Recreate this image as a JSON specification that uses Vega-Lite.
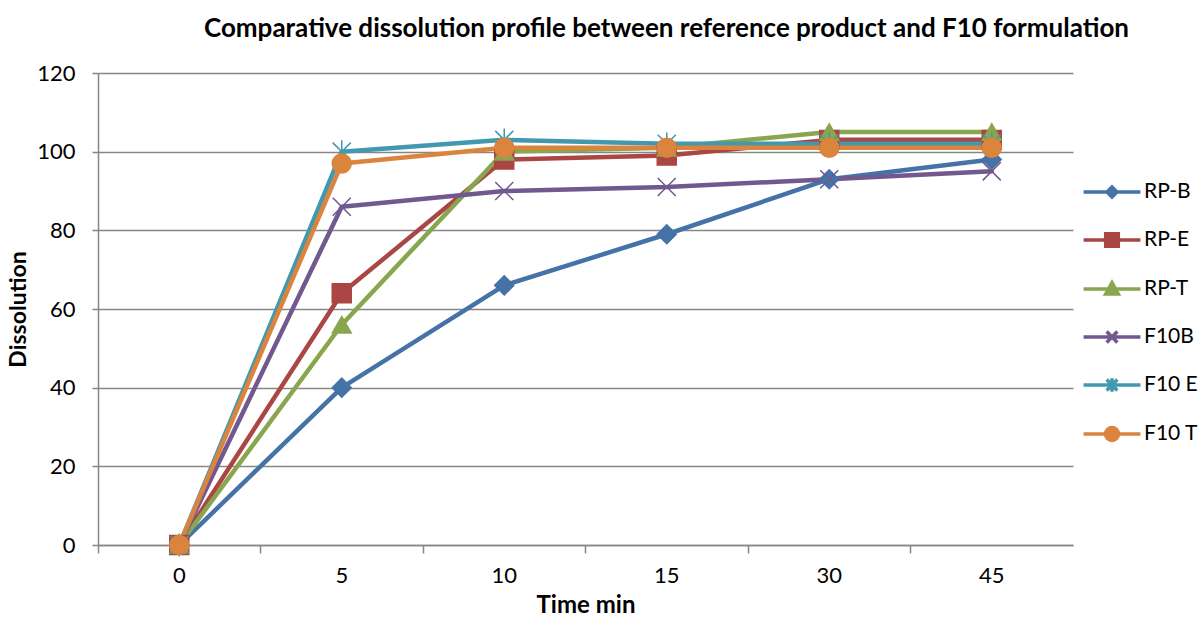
{
  "$schema": "https://vega.github.io/schema/vega-lite/v6.json",
  "width": 975,
  "height": 472,
  "autosize": "none",
  "padding": {"left": 98, "top": 73, "right": 130, "bottom": 72},
  "background": "white",
  "title": {"text": "Comparative dissolution profile between reference product and F10 formulation", "font": "Lato", "fontSize": 26, "fontWeight": "bold", "color": "black", "anchor": "middle", "dx": 81, "offset": 20},
  "config": {"view": {"stroke": null}, "font": "Lato"},
  "data": {"values": [
    {"series": "RP-B", "time": 0, "dissolution": 0},
    {"series": "RP-B", "time": 5, "dissolution": 40},
    {"series": "RP-B", "time": 10, "dissolution": 66},
    {"series": "RP-B", "time": 15, "dissolution": 79},
    {"series": "RP-B", "time": 30, "dissolution": 93},
    {"series": "RP-B", "time": 45, "dissolution": 98},
    {"series": "RP-E", "time": 0, "dissolution": 0},
    {"series": "RP-E", "time": 5, "dissolution": 64},
    {"series": "RP-E", "time": 10, "dissolution": 98},
    {"series": "RP-E", "time": 15, "dissolution": 99},
    {"series": "RP-E", "time": 30, "dissolution": 103},
    {"series": "RP-E", "time": 45, "dissolution": 103},
    {"series": "RP-T", "time": 0, "dissolution": 0},
    {"series": "RP-T", "time": 5, "dissolution": 56},
    {"series": "RP-T", "time": 10, "dissolution": 100},
    {"series": "RP-T", "time": 15, "dissolution": 101},
    {"series": "RP-T", "time": 30, "dissolution": 105},
    {"series": "RP-T", "time": 45, "dissolution": 105},
    {"series": "F10B", "time": 0, "dissolution": 0},
    {"series": "F10B", "time": 5, "dissolution": 86},
    {"series": "F10B", "time": 10, "dissolution": 90},
    {"series": "F10B", "time": 15, "dissolution": 91},
    {"series": "F10B", "time": 30, "dissolution": 93},
    {"series": "F10B", "time": 45, "dissolution": 95},
    {"series": "F10 E", "time": 0, "dissolution": 0},
    {"series": "F10 E", "time": 5, "dissolution": 100},
    {"series": "F10 E", "time": 10, "dissolution": 103},
    {"series": "F10 E", "time": 15, "dissolution": 102},
    {"series": "F10 E", "time": 30, "dissolution": 102},
    {"series": "F10 E", "time": 45, "dissolution": 102},
    {"series": "F10 T", "time": 0, "dissolution": 0},
    {"series": "F10 T", "time": 5, "dissolution": 97},
    {"series": "F10 T", "time": 10, "dissolution": 101},
    {"series": "F10 T", "time": 15, "dissolution": 101},
    {"series": "F10 T", "time": 30, "dissolution": 101},
    {"series": "F10 T", "time": 45, "dissolution": 101}
  ]},
  "encoding": {
    "x": {"field": "time", "type": "ordinal", "bandPosition": 0.5,
      "scale": {"type": "band", "paddingInner": 0, "paddingOuter": 0},
      "axis": {"title": "Time min", "titleFont": "Lato", "titleFontSize": 24, "titleFontWeight": "bold", "titleColor": "black", "titlePadding": 7,
        "bandPosition": 0, "labelAngle": 0, "labelFont": "Lato", "labelFontSize": 22, "labelColor": "black", "labelPadding": 12,
        "tickSize": 8, "tickColor": "#868686", "tickWidth": 1.5, "domainColor": "#868686", "domainWidth": 1.5, "grid": false}},
    "y": {"field": "dissolution", "type": "quantitative",
      "scale": {"domain": [0, 120], "nice": false, "zero": true},
      "axis": {"title": "Dissolution", "titleFont": "Lato", "titleFontSize": 23, "titleFontWeight": "bold", "titleColor": "black", "titlePadding": 6,
        "values": [0, 20, 40, 60, 80, 100, 120], "grid": true, "gridColor": "#868686", "gridWidth": 1.5,
        "domainColor": "#868686", "domainWidth": 1.5, "tickColor": "#868686", "tickWidth": 1.5, "tickSize": 6,
        "labelFont": "Lato", "labelFontSize": 22, "labelColor": "black", "labelPadding": 17}}
  },
  "layer": [
    {
      "mark": {"type": "line", "strokeWidth": 4.5, "strokeJoin": "round", "strokeCap": "round"},
      "encoding": {
        "stroke": {"field": "series", "type": "nominal", "legend": null,
          "scale": {"domain": ["RP-B", "RP-E", "RP-T", "F10B", "F10 E", "F10 T"], "range": ["#4573A7", "#AA4643", "#89A54E", "#71588F", "#4198AF", "#DB843D"]}}
      }
    },
    {
      "mark": {"type": "point", "filled": true, "opacity": 1, "size": 360, "strokeWidth": 1.5},
      "encoding": {
        "fill": {"field": "series", "type": "nominal", "legend": null,
          "scale": {"domain": ["RP-B", "RP-E", "RP-T", "F10B", "F10 E", "F10 T"], "range": ["#4573A7", "#AA4643", "#89A54E", "#71588F", "#4198AF", "#DB843D"]}},
        "stroke": {"field": "series", "type": "nominal", "legend": null,
          "scale": {"domain": ["RP-B", "RP-E", "RP-T", "F10B", "F10 E", "F10 T"], "range": ["#4573A7", "#AA4643", "#89A54E", "#71588F", "#4198AF", "#DB843D"]}},
        "shape": {"field": "series", "type": "nominal", "legend": null,
          "scale": {"domain": ["RP-B", "RP-E", "RP-T", "F10B", "F10 E", "F10 T"],
            "range": ["diamond", "square", "triangle-up", "M-0.95,-0.95L0.95,0.95M0.95,-0.95L-0.95,0.95", "M-0.95,-0.95L0.95,0.95M0.95,-0.95L-0.95,0.95M0,-1.2V1.2", "circle"]}}
      }
    },
    {
      "data": {"values": []},
      "mark": {"type": "point", "filled": true, "opacity": 1, "size": 1296, "strokeWidth": 3.5},
      "encoding": {
        "x": null,
        "y": null,
        "fill": {"field": "series", "type": "nominal",
          "scale": {"domain": ["RP-B", "RP-E", "RP-T", "F10B", "F10 E", "F10 T"], "range": ["#4573A7", "#AA4643", "#89A54E", "#71588F", "#4198AF", "#DB843D"]},
          "legend": {"orient": "none", "legendX": 994, "legendY": 99, "title": null, "labelFont": "Lato", "labelFontSize": 21, "labelColor": "black", "rowPadding": 15, "labelOffset": 12, "symbolSize": 1296, "symbolStrokeWidth": 3.5, "symbolOpacity": 1}},
        "stroke": {"field": "series", "type": "nominal",
          "scale": {"domain": ["RP-B", "RP-E", "RP-T", "F10B", "F10 E", "F10 T"], "range": ["#4573A7", "#AA4643", "#89A54E", "#71588F", "#4198AF", "#DB843D"]},
          "legend": {"orient": "none", "legendX": 994, "legendY": 99, "title": null, "labelFont": "Lato", "labelFontSize": 21, "labelColor": "black", "rowPadding": 15, "labelOffset": 12, "symbolSize": 1296, "symbolStrokeWidth": 3.5, "symbolOpacity": 1}},
        "shape": {"field": "series", "type": "nominal",
          "scale": {"domain": ["RP-B", "RP-E", "RP-T", "F10B", "F10 E", "F10 T"],
            "range": [
              "M-1.58,0H1.58M0,-0.28L0.28,0L0,0.28L-0.28,0Z",
              "M-1.58,0H1.58M-0.35,-0.35H0.35V0.35H-0.35Z",
              "M-1.58,0H1.58M0,-0.35L0.35,0.28L-0.35,0.28Z",
              "M-1.58,0H1.58M-0.3,-0.3L0.3,0.3M0.3,-0.3L-0.3,0.3",
              "M-1.58,0H1.58M-0.3,-0.3L0.3,0.3M0.3,-0.3L-0.3,0.3M0,-0.38V0.38",
              "M-1.58,0H1.58M0.36,0A0.36,0.36 0 1,1 -0.36,0A0.36,0.36 0 1,1 0.36,0Z"
            ]},
          "legend": {"orient": "none", "legendX": 994, "legendY": 99, "title": null, "labelFont": "Lato", "labelFontSize": 21, "labelColor": "black", "rowPadding": 15, "labelOffset": 12, "symbolSize": 1296, "symbolStrokeWidth": 3.5, "symbolOpacity": 1}}
      }
    }
  ],
  "resolve": {"scale": {"stroke": "independent", "fill": "independent", "shape": "independent"}}
}
